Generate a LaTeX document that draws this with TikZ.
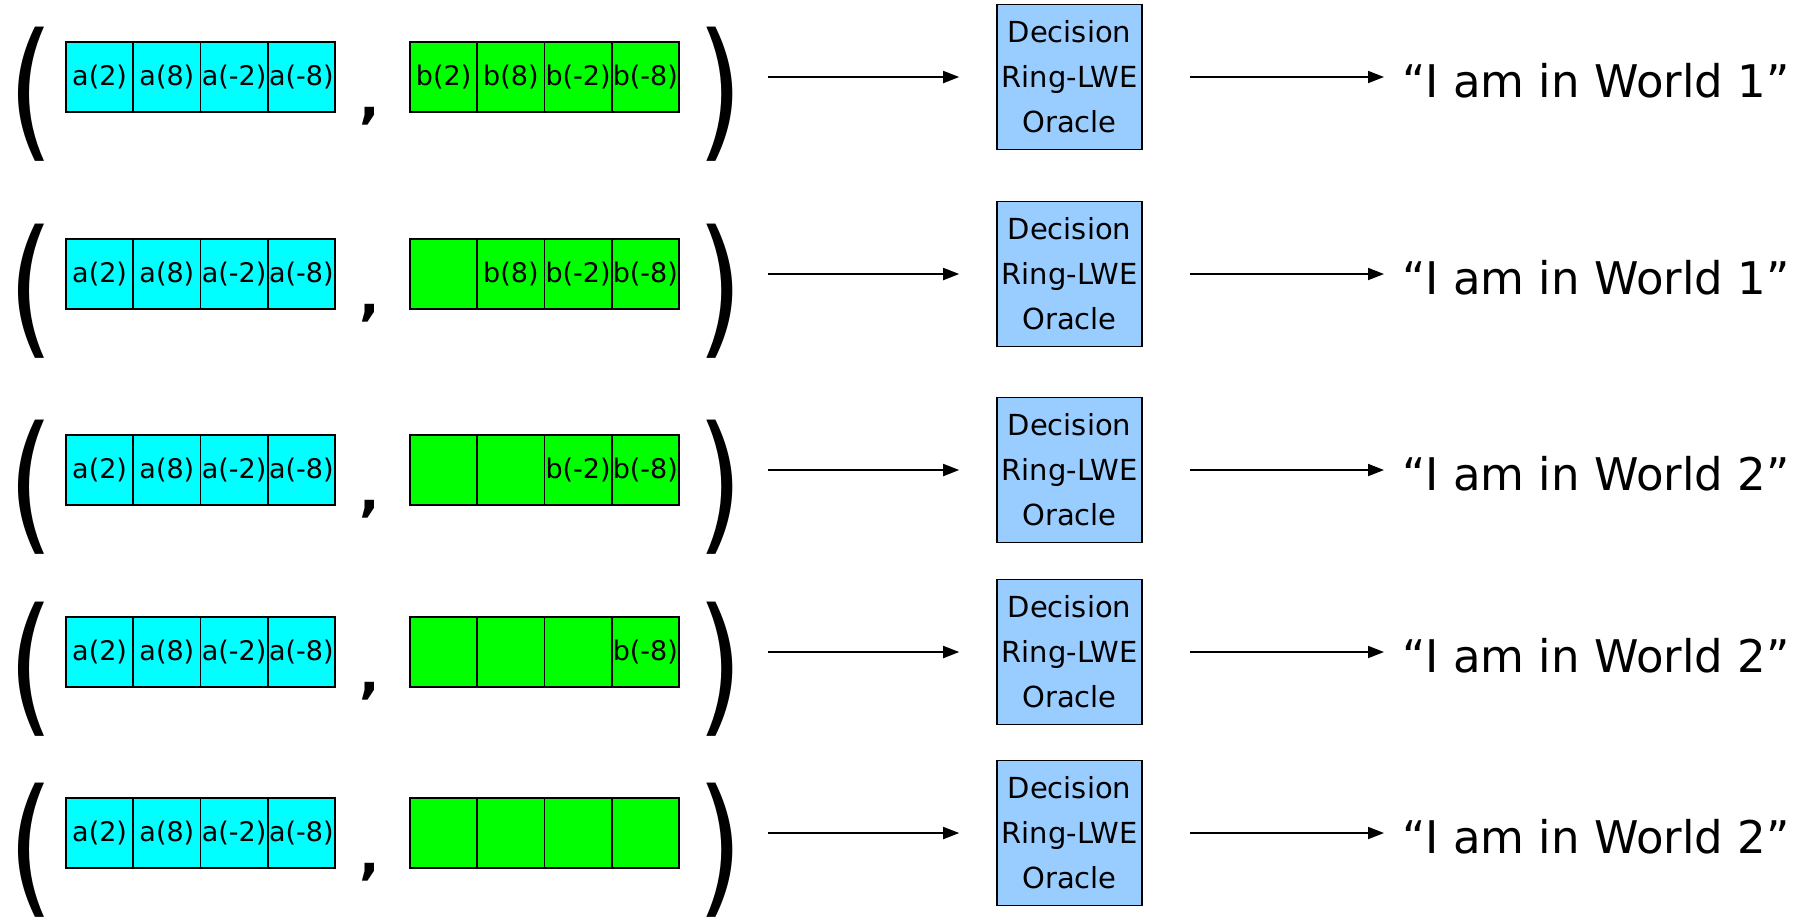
\documentclass[tikz,border=0pt]{standalone}
\usepackage{fontspec}
\setmainfont{DejaVu Sans}
\usetikzlibrary{arrows.meta}

\definecolor{aqua}{RGB}{0,255,255}
\definecolor{lime}{RGB}{0,255,0}
\definecolor{oracleblue}{RGB}{153,204,255}

\tikzset{
  cell/.style={draw=black, line width=0.8pt, minimum width=33.625pt,
    minimum height=35pt, inner sep=0pt, font=\fontsize{13.5}{16}\selectfont},
  oracle/.style={draw=black, line width=0.8pt, fill=oracleblue,
    minimum width=72.5pt, minimum height=72.5pt, inner sep=0pt,
    align=center, font=\fontsize{14.5}{22.5}\selectfont},
  paren/.style={inner sep=0pt, font=\fontsize{58}{58}\selectfont},
  comma/.style={inner sep=0pt, font=\bfseries\fontsize{27}{27}\selectfont},
  arr/.style={-{Triangle[length=8pt,width=6pt]}, line width=0.9pt},
  world/.style={inner sep=0pt, anchor=base west, font=\fontsize{22.5}{26}\selectfont}
}

\begin{document}
\begin{tikzpicture}[x=0.5pt, y=-0.5pt]
  \useasboundingbox (0,0) rectangle (1813,918);
  % one row per query: (a, b) with the first \blank b-cells hidden
  \foreach \r/\y/\blank/\w in {1/77/0/1, 2/274/1/1, 3/470/2/2, 4/652/3/2, 5/833/4/2} {
    \node[paren] (lp\r) at (31,{\y+17}) {\scalebox{1}[1.3]{(}};
    \foreach \i/\t in {1/2, 2/8, 3/-2, 4/-8} {
      \node[cell, fill=aqua] (a\r\i) at ({66+67.25*(\i-0.5)},\y) {a(\t)};
      \node[cell, fill=lime] (b\r\i) at ({410+67.25*(\i-0.5)},\y) {\ifnum\i>\blank\relax b(\t)\fi};
    }
    \node[comma] (cm\r) at (370,{\y+39}) {,};
    \node[paren] (rp\r) at (720,{\y+17}) {\scalebox{1}[1.3]{)}};
    \node[oracle] (or\r) at (1069.5,\y) {Decision\\Ring-LWE\\Oracle};
    \node[world] (w\r) at (1402,{\y+20}) {“I am in World \w”};
    \draw[arr, shorten <=12.7pt, shorten >=18.5pt] (rp\r.east |- or\r.west) -- (or\r.west);
    \draw[arr, shorten <=23.5pt, shorten >=9pt] (or\r.east) -- (w\r.west |- or\r.east);
  }
\end{tikzpicture}
\end{document}
